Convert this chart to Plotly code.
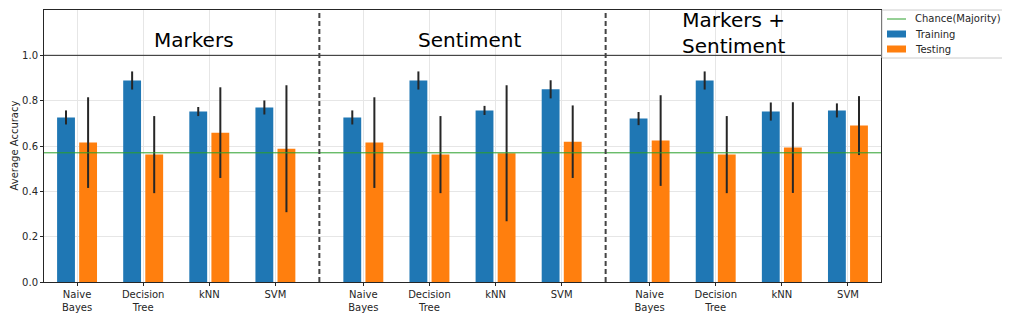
import plotly.graph_objects as go

groups = ["Markers", "Sentiment", "Markers +<br>Sentiment"]
classifiers = ["Naive<br>Bayes", "Decision<br>Tree", "kNN", "SVM"]

train_vals = [0.726, 0.889, 0.752, 0.770,
              0.726, 0.889, 0.757, 0.850,
              0.721, 0.889, 0.752, 0.757]
train_err = [0.031, 0.040, 0.020, 0.031,
             0.031, 0.040, 0.020, 0.040,
             0.029, 0.040, 0.040, 0.031]
test_vals = [0.615, 0.562, 0.659, 0.588,
             0.615, 0.562, 0.568, 0.619,
             0.624, 0.562, 0.593, 0.690]
test_err = [0.200, 0.170, 0.200, 0.280,
            0.200, 0.170, 0.300, 0.160,
            0.200, 0.170, 0.200, 0.130]
chance = 0.57
legend_names = ["Chance(Majority)", "Training", "Testing"]

GROUP_STEP = 4.33
positions = [g * GROUP_STEP + i for g in range(len(groups)) for i in range(len(classifiers))]
ticktext = [c for g in groups for c in classifiers]
off = 0.167
bw = 0.27
xmin = -0.5
xmax = positions[-1] + 0.5

FONT = "DejaVu Sans"
TXT = "#262626"
ERRC = "#262626"
BLUE = "#1f77b4"
ORANGE = "#ff7f0e"
GREEN = "#2ca02c"

fig = go.Figure()
fig.add_trace(go.Scatter(x=[xmin, xmax], y=[chance, chance], mode="lines",
                         line=dict(color=GREEN, width=1), name=legend_names[0], showlegend=False))
fig.add_trace(go.Bar(x=[p - off for p in positions], y=train_vals, width=bw,
                     marker=dict(color=BLUE, line=dict(width=0)), name=legend_names[1], showlegend=False,
                     error_y=dict(type="data", array=train_err, color=ERRC, thickness=2, width=0)))
fig.add_trace(go.Bar(x=[p + off for p in positions], y=test_vals, width=bw,
                     marker=dict(color=ORANGE, line=dict(width=0)), name=legend_names[2], showlegend=False,
                     error_y=dict(type="data", array=test_err, color=ERRC, thickness=2, width=0)))

# horizontal line at 1.0
fig.add_shape(type="line", xref="paper", yref="y", x0=0, x1=1, y0=1.0, y1=1.0,
              line=dict(color=TXT, width=1))
# dashed separators
for g in range(1, len(groups)):
    xs = (positions[4 * g - 1] + positions[4 * g]) / 2
    fig.add_shape(type="line", xref="x", yref="paper", x0=xs, x1=xs, y0=0, y1=1,
                  line=dict(color="#444444", width=2, dash="5px,3px"))

# pixel helpers (pixel coords in the 1010x318 window; plot area 44..881 x 10..282)
PW, PH = 837.0, 272.0
def px_x(px):
    return (px - 44) / PW
def px_y(py):
    return (282 - py) / PH

# group titles
title_cx = [194, 470, 734]
title_cy = [40, 40, 33]
for g, name in enumerate(groups):
    fig.add_annotation(x=px_x(title_cx[g]), xref="paper", y=px_y(title_cy[g]), yref="paper", text=name,
                       showarrow=False, font=dict(family=FONT, size=20, color="black"),
                       xanchor="center", yanchor="middle")

# y-axis title
fig.add_annotation(x=px_x(13.5), xref="paper", y=0.5, yref="paper", text="Average Accuracy",
                   textangle=-90, showarrow=False, xanchor="center", yanchor="middle",
                   font=dict(family=FONT, size=10, color=TXT))

# legend (matplotlib style box)
fig.add_shape(type="rect", xref="paper", yref="paper",
              x0=px_x(882), x1=px_x(1003), y0=px_y(58), y1=px_y(10),
              line=dict(color="#cccccc", width=1), fillcolor="white", layer="above")
rows = [19, 34, 49]
fig.add_shape(type="line", xref="paper", yref="paper", x0=px_x(887), x1=px_x(906),
              y0=px_y(rows[0]), y1=px_y(rows[0]), line=dict(color=GREEN, width=1), layer="above")
for r, c in zip(rows[1:], [BLUE, ORANGE]):
    fig.add_shape(type="rect", xref="paper", yref="paper", x0=px_x(887), x1=px_x(906),
                  y0=px_y(r + 3.5), y1=px_y(r - 3.5), line=dict(width=0), fillcolor=c, layer="above")
for r, name in zip(rows, legend_names):
    fig.add_annotation(x=px_x(913), xref="paper", y=px_y(r), yref="paper", text=name,
                       showarrow=False, xanchor="left", yanchor="middle",
                       font=dict(family=FONT, size=10, color=TXT))

# the page body has an 8px margin, so the figure is shifted by 8px
fig.update_layout(
    width=1002, height=310,
    margin=dict(l=36, r=129, t=2, b=36, autoexpand=False),
    paper_bgcolor="white", plot_bgcolor="white",
    barmode="overlay",
    font=dict(family=FONT, size=10, color=TXT),
    showlegend=False,
)
fig.update_xaxes(range=[xmin, xmax], tickmode="array", tickvals=positions, ticktext=ticktext,
                 showgrid=True, gridcolor="#e6e6e6", gridwidth=1, automargin=False,
                 showline=True, linecolor=TXT, linewidth=1, mirror=True,
                 ticks="outside", ticklen=3, tickcolor=TXT, zeroline=False,
                 tickfont=dict(family=FONT, size=10, color=TXT))
fig.update_yaxes(range=[0, 1.2], tickmode="array", tickvals=[0, 0.2, 0.4, 0.6, 0.8, 1.0],
                 tickformat=".1f", showgrid=True, gridcolor="#e6e6e6", gridwidth=1, automargin=False,
                 showline=True, linecolor=TXT, linewidth=1, mirror=True,
                 ticks="outside", ticklen=3, tickcolor=TXT, zeroline=False,
                 tickfont=dict(family=FONT, size=10, color=TXT))

fig.write_html("out.html")
